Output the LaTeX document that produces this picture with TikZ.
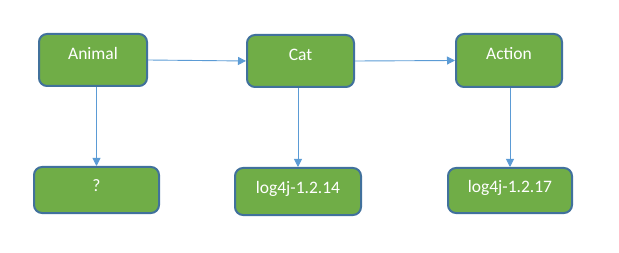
\documentclass[tikz,border=0pt]{standalone}
\usepackage{fontspec}
\setmainfont{Carlito}
\usepackage{tikz}
\usetikzlibrary{positioning,arrows.meta,calc}

\definecolor{boxgreen}{HTML}{70AD47}
\definecolor{boxedge}{HTML}{41719C}
\definecolor{linkblue}{HTML}{5B9BD5}

\begin{document}
\begin{tikzpicture}[
        x=1pt, y=1pt,
        block/.style={rectangle, rounded corners=8pt, draw=boxedge, line width=2pt, fill=boxgreen,
            text=white, font=\fontsize{17.5}{20}\selectfont, text height=12pt},
        upper/.style={block, text depth=13pt},
        lower/.style={block, text depth=8pt},
        link/.style={draw=linkblue, line width=0.9pt, -{Triangle[length=8pt,width=8pt]}}
    ]
        \useasboundingbox (0,0) rectangle (619,252);

        % Top row
        \node (animal) at (93,192) [upper, minimum width=108pt, minimum height=52pt] {Animal};
        \node (cat) at (300.5,191) [upper, minimum width=107pt, minimum height=52pt] {Cat};
        \node (action) at (509,191.5) [upper, minimum width=106pt, minimum height=53pt] {Action};

        % Bottom row
        \node (unknown) at (96.5,62) [lower, minimum width=125pt, minimum height=46pt] {?};
        \node (log14) at (298,60.5) [lower, minimum width=126pt, minimum height=47pt] {log4j-1.2.14};
        \node (log17) at (510,61.5) [lower, minimum width=124pt, minimum height=45pt] {log4j-1.2.17};

        % Arrows
        \draw[link] (animal.east) -- (cat.west);
        \draw[link] (cat.east) -- (action.west);
        \draw[link] (animal.south -| unknown.north) -- (unknown.north);
        \draw[link] (cat.south -| log14.north) -- (log14.north);
        \draw[link] (action.south -| log17.north) -- (log17.north);
    \end{tikzpicture}
\end{document}
